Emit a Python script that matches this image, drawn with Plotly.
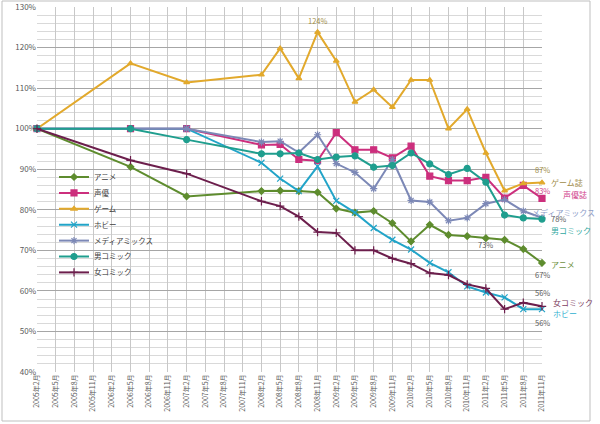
import plotly.graph_objects as go

# ---- data ----
categories = [f"{y}年{m}月" for y in range(2005, 2012) for m in (2, 5, 8, 11)]
N = None
anime   = [100, N, N, N, N, 90.6, N, N, 83.3, N, N, N, 84.6, 84.7, 84.6, 84.3, 80.3, 79.3, 79.7, 76.7, 72.2, 76.3, 73.8, 73.5, 73.0, 72.6, 70.3, 66.9]
seiyu   = [100, N, N, N, N, 100, N, N, 100, N, N, N, 96.0, 96.1, 92.4, 92.1, 99.0, 94.8, 94.8, 92.8, 95.7, 88.3, 87.2, 87.2, 88.0, 82.9, 86.0, 82.8]
game    = [100, N, N, N, N, 116.1, N, N, 111.4, N, N, N, 113.3, 119.8, 112.4, 123.8, 116.7, 106.6, 109.6, 105.3, 112.0, 112.0, 100.0, 104.8, 94.0, 84.7, 86.5, 86.7]
hobby   = [100, N, N, N, N, N, N, N, 100, N, N, N, 91.6, 87.7, 84.6, 90.7, 82.2, 79.3, 75.5, 72.6, 70.2, 66.9, 64.6, 61.1, 59.6, 58.4, 55.5, 55.5]
media   = [100, N, N, N, N, N, N, N, 100, N, N, N, 96.7, 96.9, 94.1, 98.5, 91.4, 89.2, 85.2, 92.4, 82.3, 81.9, 77.3, 78.0, 81.5, 82.5, 79.7, 78.0]
otoko   = [100, N, N, N, N, 100, N, N, 97.3, N, N, N, 93.8, 93.8, 94.0, 92.4, 93.0, 93.3, 90.5, 90.9, 94.0, 91.3, 88.7, 90.2, 86.8, 78.7, 78.0, 77.7]
onna    = [100, N, N, N, N, 92.2, N, N, 88.9, N, N, N, 82.1, 80.9, 78.3, 74.5, 74.3, 70.0, 70.0, 68.0, 66.7, 64.4, 63.9, 61.6, 60.6, 55.5, 57.1, 56.2]

series_names = ["アニメ", "声優", "ゲーム", "ホビー", "メディアミックス", "男コミック", "女コミック"]
series_vals = [anime, seiyu, game, hobby, media, otoko, onna]
colors = ["#5E8C2E", "#CC2F7D", "#E2A92C", "#22A4C8", "#7C88B6", "#1F9E8E", "#6C1E4C"]
symbols = ["diamond", "square", "triangle-up", "x-thin", "asterisk", "circle", "cross-thin"]
msizes = [5, 6, 5, 6, 6, 6, 6]
end_names = ["アニメ", "声優誌", "ゲーム誌", "ホビー", "メディアミックス", "男コミック", "女コミック"]
end_colors = ["#6E9040", "#D0408A", "#A08C48", "#30B0D0", "#8C9CC8", "#30A8A0", "#7E3E60"]
y_ticks = list(range(40, 131, 10))

FONT = "Noto Sans CJK JP"
W, H = 600, 424
ML, MR, MT, MB = 37, 58, 7, 52
PH = H - MT - MB
PW = W - ML - MR

fig = go.Figure()
legend_ids = ["legend"] + [f"legend{i}" for i in range(2, len(series_names) + 1)]
for name, vals, c, s, ms, lid in zip(series_names, series_vals, colors, symbols, msizes, legend_ids):
    fig.add_trace(go.Scatter(
        x=categories, y=vals, name=name, mode="lines+markers",
        connectgaps=True, cliponaxis=False, legend=lid, showlegend=True,
        line=dict(color=c, width=2),
        marker=dict(symbol=s, size=ms, color=c, line=dict(color=c, width=1.2)),
    ))

# one legend box per entry so that entries sit at the reference spacing
LEG_TOP_PX, LEG_STEP_PX, LEG_LEFT_PX = 177, 15.9, 54
legend_layout = {}
for i, lid in enumerate(legend_ids):
    ypx = LEG_TOP_PX + LEG_STEP_PX * i
    legend_layout[lid] = dict(x=(LEG_LEFT_PX - ML) / PW, y=1 - (ypx - MT) / PH,
                              xanchor="left", yanchor="middle",
                              bgcolor="rgba(0,0,0,0)", visible=True,
                              font=dict(family=FONT, size=7.5, color="#404040"),
                              itemwidth=30)

last = categories[-1]
ann = []
def pct(v):
    return f"{round(v)}%"

# value labels
ann.append(dict(x=categories[15], y=game[15], text=pct(game[15]), yshift=12, font=dict(color="#A08C48")))
ann.append(dict(x=last, y=game[-1], text=pct(game[-1]), yshift=13, font=dict(color="#A08C48")))
ann.append(dict(x=last, y=seiyu[-1], text=pct(seiyu[-1]), yshift=8, font=dict(color="#D0408A")))
ann.append(dict(x=last, y=media[-1], text=pct(media[-1]), xshift=16, yshift=-1, font=dict(color="#595959")))
ann.append(dict(x=categories[24], y=anime[24], text=pct(anime[24]), yshift=-6, font=dict(color="#595959")))
ann.append(dict(x=last, y=anime[-1], text=pct(anime[-1]), yshift=-11.5, font=dict(color="#595959")))
ann.append(dict(x=last, y=onna[-1], text=pct(onna[-1]), yshift=14, font=dict(color="#595959")))
ann.append(dict(x=last, y=hobby[-1], text=pct(hobby[-1]), yshift=-13, font=dict(color="#595959")))
for a in ann:
    a.update(xref="x", yref="y", showarrow=False)
    a["font"].update(family=FONT, size=7.5)

# end labels (series names)
end_offsets = {"アニメ": (7, -2), "声優誌": (19, 4), "ゲーム誌": (7, 0), "ホビー": (9, -4),
               "メディアミックス": (-12, 5.5), "男コミック": (7, -11), "女コミック": (9, 4)}
for vals, en, ec in zip(series_vals, end_names, end_colors):
    dx, dy = end_offsets[en]
    ann.append(dict(x=last, y=vals[-1], xref="x", yref="y", text=en, showarrow=False,
                    xanchor="left", xshift=dx, yshift=dy,
                    font=dict(family=FONT, size=8, color=ec)))

fig.update_layout(
    width=W, height=H, showlegend=True,
    margin=dict(l=ML, r=MR, t=MT, b=MB, pad=0),
    paper_bgcolor="white", plot_bgcolor="white",
    font=dict(family=FONT, size=8, color="#595959"),
    annotations=ann,
    shapes=[dict(type="rect", xref="paper", yref="paper",
                 x0=(2 - ML) / PW, x1=(590 - ML) / PW,
                 y0=1 - (421 - MT) / PH, y1=1 - (1 - MT) / PH,
                 line=dict(color="#BFBFBF", width=1), layer="below")],
    **legend_layout,
)
fig.update_xaxes(type="category", range=[0, len(categories) - 1],
                 tickmode="array", tickvals=categories, ticktext=categories,
                 tickangle=-90, tickfont=dict(family=FONT, size=7, color="#595959"),
                 showgrid=True, gridcolor="#C8C8C8", gridwidth=1,
                 showline=False, zeroline=False, ticks="", automargin=False)
fig.update_yaxes(range=[40, 130], tickmode="array", tickvals=y_ticks,
                 ticktext=[f"{v}%" for v in y_ticks],
                 tickfont=dict(family=FONT, size=8, color="#595959"),
                 showgrid=True, gridcolor="#A6A6A6", gridwidth=1,
                 minor=dict(dtick=2, showgrid=True, gridcolor="#D9D9D9", gridwidth=1),
                 zeroline=False, showline=False, ticks="", automargin=False)

fig.write_html("out.html", config={"displayModeBar": False},
               post_script="document.body.style.margin='0';document.body.style.overflow='hidden';")
